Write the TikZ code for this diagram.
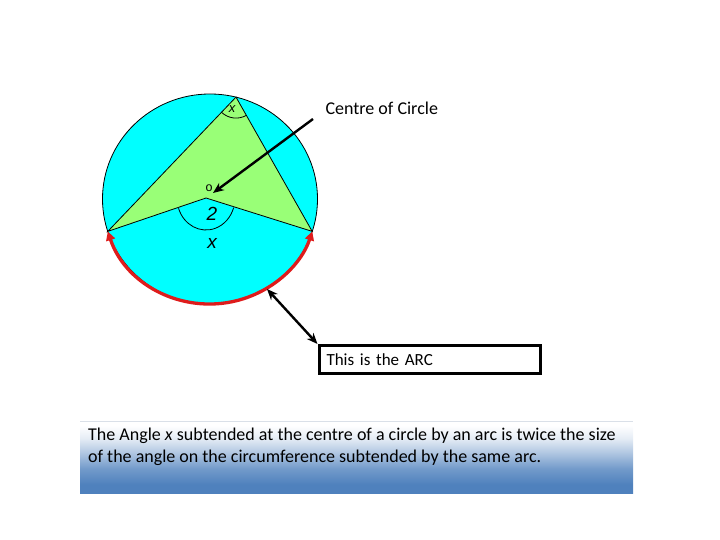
\documentclass[tikz,border=0pt]{standalone}
\usepackage{fontspec}
\setmainfont{Carlito}
\newfontfamily\arialf{Liberation Sans}
\usetikzlibrary{arrows.meta}
\definecolor{cyanfill}{RGB}{0,255,255}
\definecolor{greenfill}{RGB}{153,255,119}
\definecolor{arcred}{RGB}{222,28,28}
\definecolor{bblue}{RGB}{79,129,189}
\colorlet{bblueA}{bblue!80!white}
\colorlet{bblueB}{bblue!45!white}
\colorlet{bblueC}{bblue!15!white}
\definecolor{edgegray}{RGB}{218,224,232}
\pgfdeclareverticalshading{noteshade}{100bp}{color(0bp)=(bblue); color(25bp)=(bblue); color(31bp)=(bblue); color(42bp)=(bblueA); color(53bp)=(bblueB); color(63bp)=(bblueC); color(72bp)=(white); color(100bp)=(white)}
\tikzset{
  tipstyle/.tip={Stealth[length=11pt,width=9pt]},
  redtip/.tip={Triangle[length=9pt,width=9pt]}}
\begin{document}
\begin{tikzpicture}[x=1pt,y=1pt,
  thinline/.style={line width=0.8pt, draw=black},
  labeltext/.style={font=\fontsize{#1}{20}\selectfont},
  geomlabel/.style={font=\arialf\itshape\fontsize{#1}{#1}\selectfont, inner sep=0pt},
  pointer/.style={line width=2.4pt, black}]
\useasboundingbox (0,0) rectangle (720,540);
% geometry
\coordinate (C) at (210,341);
\coordinate (A) at (236.0,442.9);
\coordinate (L) at (107.8,308.6);
\coordinate (R) at (312.2,308.6);
\coordinate (O) at (206,342);
% circle
\draw[thinline, fill=cyanfill] (C) ellipse [x radius=107.5, y radius=105];
% green shape
\draw[thinline, fill=greenfill] (A) -- (L) -- (O) -- (R) -- cycle;
% angle arcs
\draw[thinline] (A) ++(226.3:21) arc[start angle=226.3, end angle=299.6, radius=21];
\draw[thinline] (O) ++(198.8:29 and 32) arc[start angle=198.8, end angle=342.5, x radius=29, y radius=32];
% labels
\node[geomlabel=13] (xtop) at (232,431) {x};
\node[font=\arialf\fontsize{12.5}{12.5}\selectfont, inner sep=0pt] (olabel) at (209,352) {o};
\node[geomlabel=19] (two) at (212,326) {2};
\node[geomlabel=19] (xbot) at (212,297) {x};
% red arc
\draw[arcred, line width=3.3pt, redtip-redtip] (L) arc[start angle=198, end angle=342, x radius=107.5, y radius=105];
% centre pointer
\node[labeltext=18, anchor=west] (ctext) at (322,432) {Centre of Circle};
\coordinate (cstart) at (313,421);
\coordinate (ctip) at (213,347);
\draw[pointer, -tipstyle] (cstart) -- (ctip);
% arc box
\node[draw, line width=3pt, anchor=north west, minimum height=28pt, inner xsep=7.5pt, inner ysep=0pt,
  text width=206.5pt, align=left, labeltext=17] (arcbox) at (317.5,196) {This is the ARC};
\coordinate (arcpt) at (267,251);
\draw[pointer, tipstyle-tipstyle] (arcpt) -- (arcbox.north west);
% bottom note
\node[anchor=north west, minimum width=553pt, minimum height=72pt, inner sep=0pt,
  shading=noteshade] (note) at (80,119) {};
\draw[edgegray, line width=0.8pt] (note.north west) -- (note.north east);
\node[anchor=west, align=left, inner sep=0pt, font=\fontsize{18}{22}\selectfont] (notetext) at (88,93)
  {The Angle \textit{x} subtended at the centre of a circle by an arc is twice the size\\
   of the angle on the circumference subtended by the same arc.};
\end{tikzpicture}
\end{document}
